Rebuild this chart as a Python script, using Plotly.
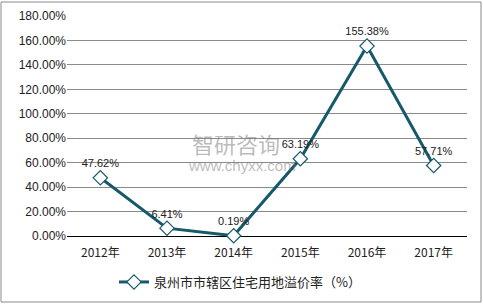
import plotly.graph_objects as go

years = ["2012年", "2013年", "2014年", "2015年", "2016年", "2017年"]
values = [47.62, 6.41, 0.19, 63.19, 155.38, 57.71]
labels = ["47.62%", "6.41%", "0.19%", "63.19%", "155.38%", "57.71%"]
tick_vals = [0, 20, 40, 60, 80, 100, 120, 140, 160, 180]
tick_text = ["%.2f%%" % v for v in tick_vals]
series_name = "泉州市市辖区住宅用地溢价率（%）"

color = "#15596b"
fig = go.Figure()
fig.add_trace(go.Scatter(
    x=years, y=values, mode="lines+markers+text", name=series_name,
    text=labels, textposition="top center",
    textfont=dict(size=11, color="#222222", family="Liberation Sans, Arial"),
    line=dict(color=color, width=3),
    marker=dict(symbol="diamond", size=11, color="white", line=dict(color=color, width=1.2)),
    cliponaxis=False,
))

PT, PB, PL, PR = 16, 236, 67, 467
H, W = 306, 483

fig.update_layout(
    width=W, height=H,
    margin=dict(l=PL, r=W - PR, t=PT, b=H - PB, autoexpand=False),
    paper_bgcolor="white", plot_bgcolor="white",
    font=dict(family="Liberation Sans, Arial", size=11, color="#222222"),
    showlegend=True,
    legend=dict(orientation="h", x=(240 - PL) / (PR - PL), xanchor="center",
                yref="container", y=1 - 282 / H, yanchor="middle",
                font=dict(size=13, family="Noto Sans CJK SC, Liberation Sans"),
                itemwidth=30),
    xaxis=dict(type="category", range=[-0.5, 5.5], showgrid=False, showline=False,
               ticks="", ticklabelstandoff=8,
               tickfont=dict(size=12, family="Noto Sans CJK SC, Liberation Sans")),
    yaxis=dict(range=[0, 180], tickvals=tick_vals, ticktext=tick_text,
               showgrid=True, gridcolor="#8a8a8a", gridwidth=1,
               zeroline=True, zerolinecolor="#000000", zerolinewidth=1,
               showline=False, ticks="", tickfont=dict(size=12)),
    shapes=[
        dict(type="rect", xref="paper", yref="paper",
             x0=(1 - PL) / (PR - PL), x1=(481 - PL) / (PR - PL),
             y0=-(302 - PB) / (PB - PT), y1=(PB - 2) / (PB - PT),
             line=dict(color="#8a8a8a", width=1), layer="below")],
    annotations=[
        dict(text="智研咨询", x=(236 - PL) / (PR - PL), y=(PB - 143) / (PB - PT), xref="paper", yref="paper",
             showarrow=False, font=dict(size=22, color="rgba(120,120,120,0.5)", family="Noto Sans CJK SC"),
             xanchor="center", yanchor="middle"),
        dict(text="www.chyxx.com", x=(242 - PL) / (PR - PL), y=(PB - 165) / (PB - PT), xref="paper", yref="paper",
             showarrow=False, font=dict(size=15, color="rgba(120,120,120,0.5)", family="Liberation Sans"),
             xanchor="center", yanchor="middle"),
    ],
)

fig.write_html("out.html")
